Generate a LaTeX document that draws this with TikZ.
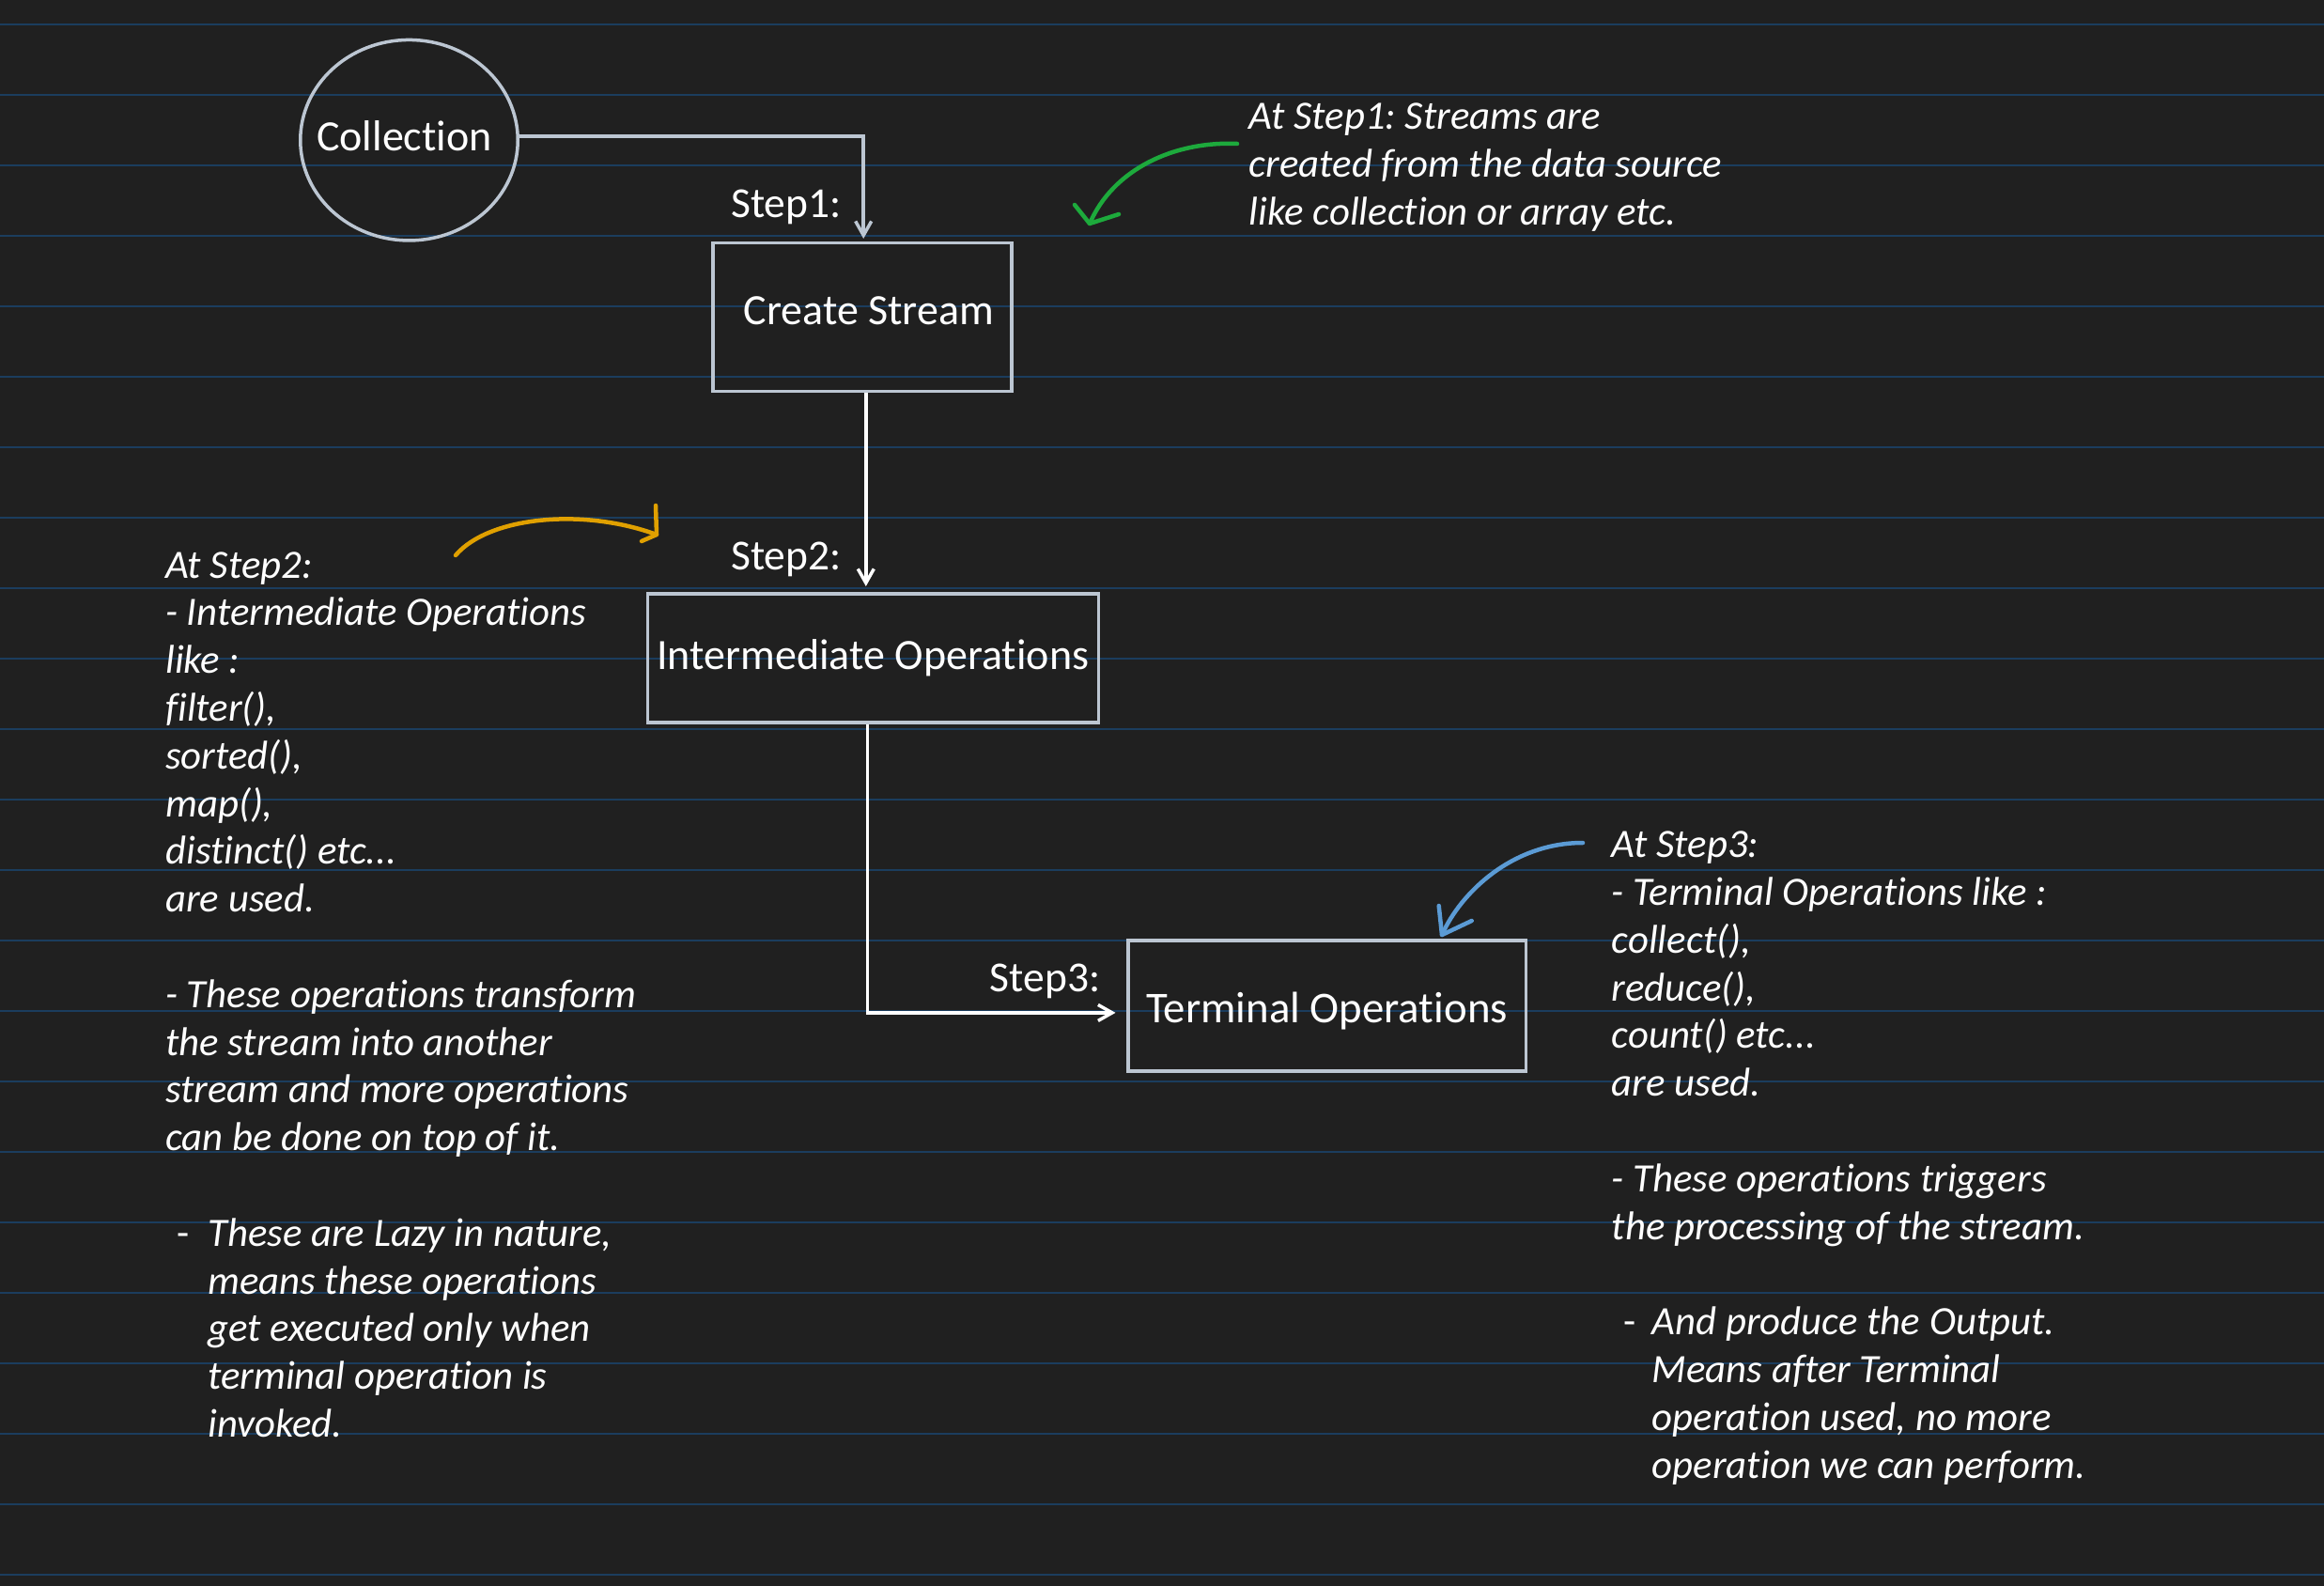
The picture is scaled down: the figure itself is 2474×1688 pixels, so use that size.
\documentclass[tikz,border=0pt]{standalone}
\usepackage{fontspec}
\setmainfont{Carlito}[Ligatures={NoCommon}]
\usetikzlibrary{shapes.geometric,arrows.meta}
\definecolor{bg}{HTML}{202020}
\definecolor{rulecol}{HTML}{1B3D5E}
\definecolor{edgecol}{HTML}{BCC6D2}
\definecolor{grn}{HTML}{1DAA3C}
\definecolor{blu}{HTML}{5B9BD5}
\definecolor{org}{HTML}{E0A000}
\frenchspacing
\begin{document}
\begin{tikzpicture}[x=1pt,y=-1pt,
  boxnode/.style={rectangle, draw=edgecol, line width=3.5pt, inner sep=0pt, text=white, font=\fontsize{46}{55}\selectfont, text depth=0pt},
  notetext/.style={text=white, font=\fontsize{42.8}{50.8}\selectfont\itshape, align=left, inner sep=0pt, anchor=base west},
  steplabel/.style={text=white, font=\fontsize{45.5}{54}\selectfont, inner sep=0pt, anchor=base},
  conn/.style={line width=3.5pt, -{Straight Barb[length=15pt, width=17pt]}},
  hand/.style={line width=4.5pt, line cap=round, line join=round}
]
\fill[bg] (0,0) rectangle (2474,1688);
\useasboundingbox (0,0) rectangle (2474,1688);
\foreach \k in {0,...,22} {
  \draw[rulecol, line width=2pt] (0,{25.7+75*\k}) -- (2474,{25.7+75*\k});
}

% nodes
\node[ellipse, draw=edgecol, line width=3.5pt, minimum width=231.5pt, minimum height=213.5pt, inner sep=0pt, text=white, font=\fontsize{46}{55}\selectfont, text height=23pt, text depth=0pt] (coll) at (435.5,149.2) {\makebox[0pt]{Collection\hspace{10pt}}};
\node[boxnode, minimum width=318pt, minimum height=157.5pt, text height=16pt] (cs) at (917.8,337.5) {\hspace*{14pt}Create Stream};
\node[boxnode, minimum width=480pt, minimum height=137pt, text height=24.5pt] (im) at (929.25,700.25) {Intermediate Operations};
\node[boxnode, minimum width=423.5pt, minimum height=139pt, text height=35.4pt, font=\fontsize{46.8}{55}\selectfont] (tm) at (1412.5,1070.3) {Terminal Operations};

\node[steplabel] (s1) at (837,231.7) {Step1:};
\node[steplabel] (s2) at (837,606.7) {Step2:};
\node[steplabel] (s3) at (1112.7,1055) {Step3:};

% connectors
\draw[conn, draw=edgecol, shorten >=3pt] ([yshift=4pt]coll.east) -| ([xshift=1.4pt]cs.north);
\draw[conn, draw=white, shorten >=6pt] ([xshift=4pt]cs.south) -- ([xshift=4pt]cs.south |- im.north);
\draw[conn, draw=white] ([xshift=-6pt]im.south) |- ([xshift=-11.5pt,yshift=-7.6pt]tm.west);

% notes (anchor = baseline of the last line)
\node[notetext] (n1) at (1329.6,239.6) {At Step1: Streams are\\created from the data source\\like collection or array etc.};
\node[notetext] (n2) at (176,1224.6) {At Step2:\\- Intermediate Operations\\like :\\filter(),\\sorted(),\\map(),\\distinct() etc...\\are used.\\[50.8pt]- These operations transform\\the stream into another\\stream and more operations\\can be done on top of it.};
\node[notetext] (n2d) at (188,1326.2) {\upshape -};
\node[notetext] (n2b) at (221,1529.4) {These are Lazy in nature,\\means these operations\\get executed only when\\terminal operation is\\invoked.};
\node[notetext] (n3) at (1715.5,1319.1) {At Step3:\\- Terminal Operations like :\\collect(),\\reduce(),\\count() etc...\\are used.\\[50.8pt]- These operations triggers\\the processing of the stream.};
\node[notetext] (n3d) at (1728,1420.7) {\upshape -};
\node[notetext] (n3b) at (1758.6,1573.1) {And produce the Output.\\Means after Terminal\\operation used, no more\\operation we can perform.};

% hand-drawn annotation arrows
\coordinate (g0) at (1317,153);
\coordinate (g1) at (1160,238);
\draw[hand, grn] (g0) .. controls (1250,150) and (1185,180) .. (g1);
\draw[hand, grn] (1144,218) -- (g1) -- (1191,228);

\coordinate (o0) at (485,591);
\coordinate (o1) at (699,569);
\draw[hand, org] (o0) .. controls (520,550) and (620,540) .. (o1);
\draw[hand, org] (698,538) -- (o1) -- (683,576);

\coordinate (b0) at (1685,897);
\coordinate (b1) at (1535,995);
\draw[hand, blu] (b0) .. controls (1610,897) and (1555,950) .. (b1);
\draw[hand, blu] (1531.7,964) -- (b1) -- (1566.7,980);
\end{tikzpicture}
\end{document}
